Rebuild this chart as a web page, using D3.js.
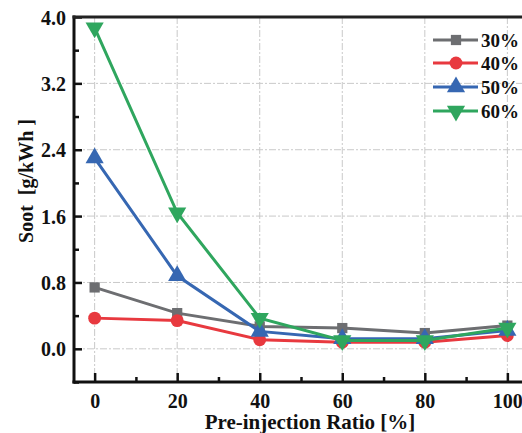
<!DOCTYPE html>
<html><head><meta charset="utf-8">
<script src="https://cdn.jsdelivr.net/npm/d3@7"></script>
<style>body{margin:0;background:#fff}svg{display:block}</style>
</head><body>
<svg id="c" width="522" height="433"></svg>
<script>
const xValues = [0, 20, 40, 60, 80, 100];
const series30 = [0.74, 0.43, 0.27, 0.25, 0.19, 0.28];
const series40 = [0.37, 0.34, 0.11, 0.08, 0.08, 0.16];
const series50 = [2.30, 0.88, 0.21, 0.12, 0.12, 0.22];
const series60 = [3.87, 1.64, 0.37, 0.10, 0.10, 0.25];
const seriesNames = ["30%", "40%", "50%", "60%"];
const xTicks = [0, 20, 40, 60, 80, 100];
const yTicks = [0.0, 0.8, 1.6, 2.4, 3.2, 4.0];
const yMinorTicks = [-0.4, 0.4, 1.2, 2.0, 2.8, 3.6];
const xMinorTicks = [10, 30, 50, 70, 90];

const colors = ["#6d6e71", "#e8393f", "#3667b2", "#2fa65e"];
const symbols = [d3.symbolSquare, d3.symbolCircle, d3.symbolTriangle, "down"];
const allSeries = [series30, series40, series50, series60];

const svg = d3.select("#c");
const L = 74, T = 17, B = 382, R = 528;
const x = d3.scaleLinear().domain([-5, 105]).range([L, R]);
const y = d3.scaleLinear().domain([-0.4, 4.0]).range([B, T]);
const font = "'Liberation Serif','Times New Roman',serif";

// grid
const grid = svg.append("g").attr("stroke", "#c9c9c9").attr("stroke-width", 1).attr("stroke-dasharray", "7,2,2,2");
grid.selectAll(".gx").data(xTicks).join("line")
  .attr("x1", d => x(d)).attr("x2", d => x(d)).attr("y1", T).attr("y2", B);
grid.selectAll(".gy").data(yTicks.filter(v => v < 4)).join("line")
  .attr("y1", d => y(d)).attr("y2", d => y(d)).attr("x1", L).attr("x2", R);

// axes
const xAxis = d3.axisBottom(x).tickValues(xTicks).tickSizeInner(-9).tickSizeOuter(0).tickFormat(d3.format("d"));
const gx = svg.append("g").attr("transform", `translate(0,${B})`).call(xAxis);
gx.select(".domain").remove();
gx.selectAll(".tick line").attr("stroke", "#111").attr("stroke-width", 2.5);
gx.selectAll(".tick text").attr("font-family", font).attr("font-weight", "bold").attr("font-size", 20).attr("fill", "#111").attr("dy", 0).attr("y", 26);
const gxm = svg.append("g").attr("transform", `translate(0,${B})`).call(d3.axisBottom(x).tickValues(xMinorTicks).tickSizeInner(-5).tickSizeOuter(0).tickFormat(""));
gxm.select(".domain").remove();
gxm.selectAll(".tick line").attr("stroke", "#111").attr("stroke-width", 2.5);

const yAxis = d3.axisLeft(y).tickValues(yTicks).tickSizeInner(-8).tickSizeOuter(0).tickFormat(d3.format(".1f"));
const gy = svg.append("g").attr("transform", `translate(${L},0)`).call(yAxis);
gy.select(".domain").remove();
gy.selectAll(".tick line").attr("stroke", "#111").attr("stroke-width", 2.5);
gy.selectAll(".tick text").attr("font-family", font).attr("font-weight", "bold").attr("font-size", 20).attr("fill", "#111").attr("x", -8).attr("dy", "0.35em");
const gym = svg.append("g").attr("transform", `translate(${L},0)`).call(d3.axisLeft(y).tickValues(yMinorTicks).tickSizeInner(-5).tickSizeOuter(0).tickFormat(""));
gym.select(".domain").remove();
gym.selectAll(".tick line").attr("stroke", "#111").attr("stroke-width", 2.5);

// frame lines
svg.append("line").attr("x1", L).attr("x2", L).attr("y1", T - 1.5).attr("y2", B + 1.5).attr("stroke", "#111").attr("stroke-width", 3);
svg.append("line").attr("x1", L - 1.5).attr("x2", 522).attr("y1", B).attr("y2", B).attr("stroke", "#111").attr("stroke-width", 3);
svg.append("line").attr("x1", L - 1.5).attr("x2", 522).attr("y1", T).attr("y2", T).attr("stroke", "#222").attr("stroke-width", 3);

function marker(sel, i, size) {
  const t = symbols[i] === "down" ? d3.symbolTriangle : symbols[i];
  const s = (t === d3.symbolTriangle) ? size * 1.1 : size;
  sel.attr("d", d3.symbol().type(t).size(s)());
}
const sizes = [105, 130, 130, 130];

const line = d3.line().x((d, i) => x(xValues[i])).y(d => y(d));
allSeries.forEach((s, i) => {
  const g = svg.append("g");
  g.append("path").datum(s).attr("d", line).attr("fill", "none").attr("stroke", colors[i]).attr("stroke-width", 3);
  g.selectAll("path.m").data(s).join("path").attr("class", "m")
    .each(function (d, j) {
      const p = d3.select(this);
      marker(p, i, sizes[i]);
      const rot = symbols[i] === "down" ? " rotate(180)" : "";
      p.attr("transform", `translate(${x(xValues[j])},${y(d)})${rot}`);
    })
    .attr("fill", colors[i]);
});

// legend
const legY = [40, 63, 87, 111];
seriesNames.forEach((name, i) => {
  const g = svg.append("g").attr("transform", `translate(0,${legY[i]})`);
  g.append("line").attr("x1", 433).attr("x2", 478).attr("y1", 0).attr("y2", 0).attr("stroke", colors[i]).attr("stroke-width", 3);
  const p = g.append("path").attr("fill", colors[i]);
  marker(p, i, sizes[i]);
  p.attr("transform", `translate(456,0)` + (symbols[i] === "down" ? " rotate(180)" : ""));
  g.append("text").attr("x", 481).attr("y", 0).attr("dy", "0.35em").text(name)
    .attr("font-family", font).attr("font-weight", "bold").attr("font-size", 19).attr("fill", "#111");
});

// titles
svg.append("text").attr("x", 310).attr("y", 429).attr("text-anchor", "middle")
  .attr("font-family", font).attr("font-weight", "bold").attr("font-size", 21).attr("fill", "#111")
  .text("Pre-injection Ratio [%]");
svg.append("text").attr("transform", "translate(33,181) rotate(-90)").attr("text-anchor", "middle")
  .attr("font-family", font).attr("font-weight", "bold").attr("font-size", 20).attr("fill", "#111")
  .attr("xml:space", "preserve")
  .text("Soot  [g/kWh ]");
</script>
</body></html>
